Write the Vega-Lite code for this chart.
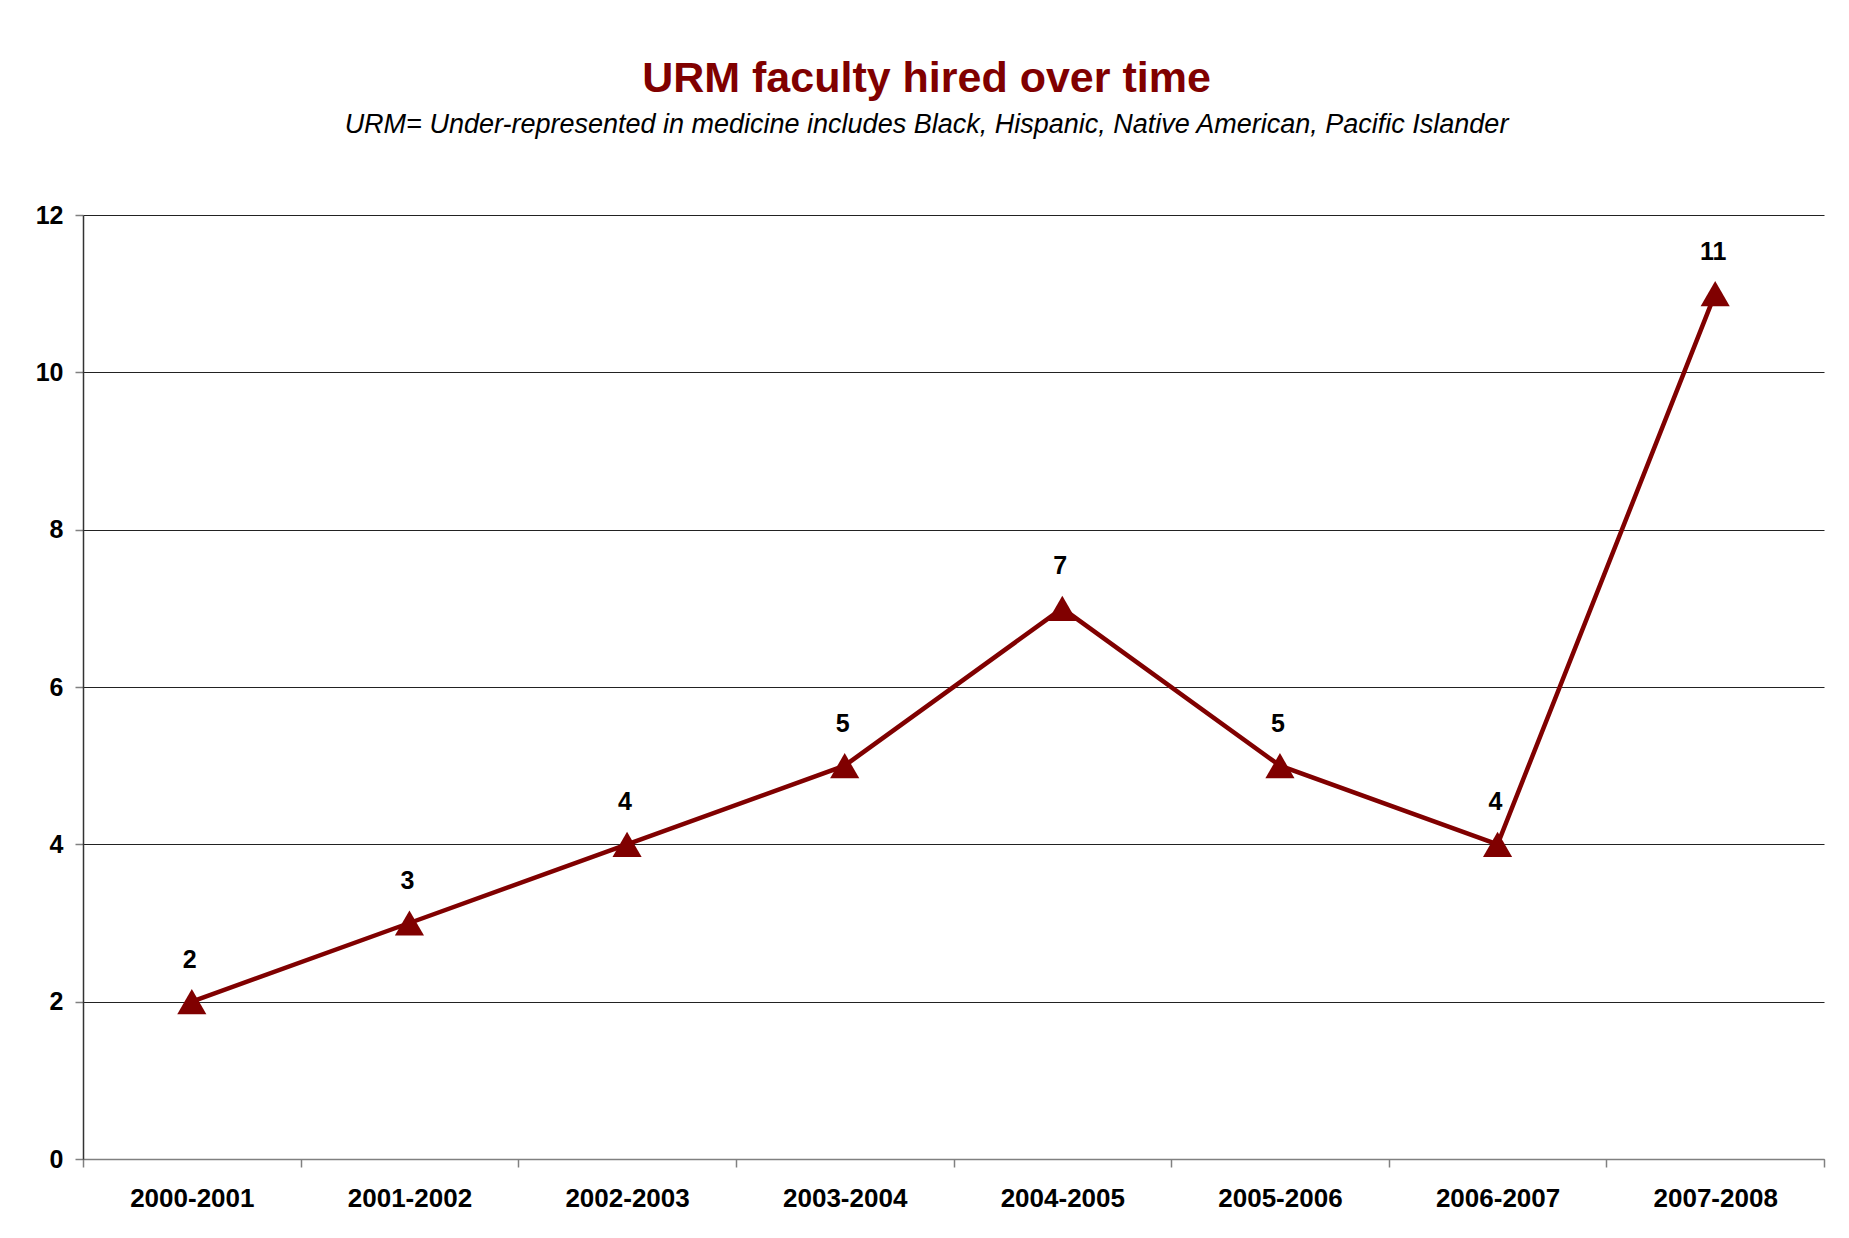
{
  "$schema": "https://vega.github.io/schema/vega-lite/v6.json",
  "width": 1741,
  "height": 944,
  "autosize": "none",
  "padding": {"left": 83, "top": 215, "right": 25, "bottom": 79},
  "background": "white",
  "config": {"view": {"stroke": null}},
  "title": {
    "text": "URM faculty hired over time",
    "subtitle": "URM= Under-represented in medicine includes Black, Hispanic, Native American, Pacific Islander",
    "font": "Liberation Sans",
    "fontSize": 43,
    "fontWeight": "bold",
    "color": "#800000",
    "subtitleFont": "Liberation Sans",
    "subtitleFontSize": 27,
    "subtitleFontStyle": "italic",
    "subtitleColor": "#000000",
    "anchor": "middle",
    "dx": -27,
    "offset": 65,
    "subtitlePadding": 11
  },
  "data": {
    "values": [
      {"year": "2000-2001", "hired": 2},
      {"year": "2001-2002", "hired": 3},
      {"year": "2002-2003", "hired": 4},
      {"year": "2003-2004", "hired": 5},
      {"year": "2004-2005", "hired": 7},
      {"year": "2005-2006", "hired": 5},
      {"year": "2006-2007", "hired": 4},
      {"year": "2007-2008", "hired": 11}
    ]
  },
  "encoding": {
    "x": {
      "field": "year",
      "type": "ordinal",
      "sort": null,
      "scale": {"type": "band", "paddingInner": 0, "paddingOuter": 0},
      "axis": {
        "title": null,
        "labelAngle": 0,
        "labelFont": "Liberation Sans",
        "labelFontSize": 26,
        "labelFontWeight": "bold",
        "labelColor": "#000000",
        "tickBand": "extent",
        "tickSize": 8,
        "tickColor": "#808080",
        "tickWidth": 1.5,
        "domainColor": "#808080",
        "domainWidth": 1.5,
        "labelPadding": 18,
        "grid": false
      }
    },
    "y": {
      "field": "hired",
      "type": "quantitative",
      "scale": {"domain": [0, 12], "nice": false},
      "axis": {
        "title": null,
        "values": [0, 2, 4, 6, 8, 10, 12],
        "grid": true,
        "gridColor": "#222222",
        "gridWidth": 1,
        "domainColor": "#333333",
        "domainWidth": 1.5,
        "tickColor": "#808080",
        "tickWidth": 1.5,
        "tickSize": 8,
        "labelFont": "Liberation Sans",
        "labelFontSize": 25,
        "labelFontWeight": "bold",
        "labelColor": "#000000",
        "labelPadding": 12
      }
    }
  },
  "layer": [
    {"mark": {"type": "line", "color": "#800000", "strokeWidth": 4.5}},
    {"mark": {"type": "point", "shape": "triangle-up", "filled": true, "opacity": 1, "color": "#800000", "size": 850}},
    {
      "mark": {"type": "text", "dy": -42, "dx": -2, "font": "Liberation Sans", "fontSize": 25, "fontWeight": "bold", "color": "#000000"},
      "encoding": {"text": {"field": "hired", "type": "quantitative"}}
    }
  ]
}
